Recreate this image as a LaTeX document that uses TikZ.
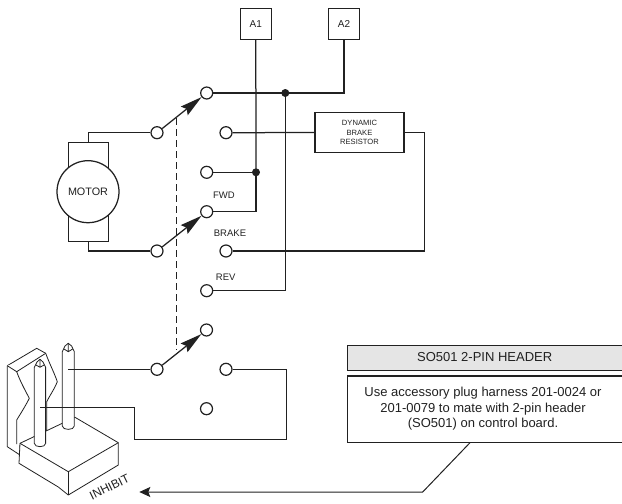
\documentclass[tikz,border=0pt]{standalone}
\usepackage{fontspec}
\setmainfont{Liberation Sans}
\usetikzlibrary{arrows.meta,calc}
\definecolor{ink}{gray}{0.13}
\definecolor{headfill}{gray}{0.90}
\newcommand{\fs}[1]{\fontsize{#1}{#1}\selectfont}
\tikzset{
  wire/.style={draw=ink,line width=1.25pt},
  term/.style={circle,draw=ink,line width=1.2pt,fill=white,minimum size=12pt,inner sep=0pt},
  jdot/.style={circle,fill=ink,minimum size=8pt,inner sep=0pt},
  conbox/.style={rectangle,draw=ink,line width=1.25pt,fill=white,inner sep=0pt,text=ink},
  lab/.style={inner sep=0pt,text=ink,font=\fs{9.5}},
  blade/.style={wire,-{Stealth[length=22pt,width=11pt,inset=3pt]}},
  hdr/.style={draw=ink,line width=0.8pt,fill=white,line join=round},
}
\begin{document}
\begin{tikzpicture}[x=1pt,y=-1pt]
\useasboundingbox (0,0) rectangle (622,504);
\clip (0,0) rectangle (622,504);
% connector boxes
\node[conbox,minimum width=31pt,minimum height=31pt,font=\fs{10}] (A1) at (255.8,24) {A1};
\node[conbox,minimum width=31pt,minimum height=31pt,font=\fs{10}] (A2) at (344,24) {A2};
\node[conbox,minimum width=89pt,minimum height=40pt,align=center,font=\fs{7.6}] (DB) at (359.5,132.5) {DYNAMIC\\[1.8pt]BRAKE\\[1.8pt]RESISTOR};
% motor
\node[rectangle,draw=ink,line width=1.25pt,minimum width=40pt,minimum height=98.6pt,inner sep=0pt] (MB) at (88.3,192) {};
\node[circle,draw=ink,line width=1.25pt,fill=white,minimum size=62pt,inner sep=0pt,text=ink,font=\fs{10.8}] (M) at (88,191.7) {MOTOR};
% terminals
\node[term] (m1) at (157,132.7) {};
\node[term] (m2) at (157,251) {};
\node[term] (m3) at (157,369.3) {};
\node[term] (t1) at (206.7,93) {};
\node[term] (t2) at (226,132.7) {};
\node[term] (t3) at (206.7,172.3) {};
\node[term] (t4) at (206.7,211.7) {};
\node[term] (t5) at (226,251) {};
\node[term] (t6) at (206.7,290.7) {};
\node[term] (t7) at (206.5,330) {};
\node[term] (t8) at (226,369.3) {};
\node[term] (t9) at (206.5,408.7) {};
\node[jdot] (j1) at (256,172.3) {};
\node[jdot] (j2) at (285.3,93) {};
% labels
\node[lab] (fwd) at (224,195.5) {FWD};
\node[lab] (brk) at (230,233.5) {BRAKE};
\node[lab] (rev) at (225.7,277.3) {REV};
% wiring
\draw[wire] (A1.south) -- (j1.center);
\draw[wire] (j1.center) |- (t4.east);
\draw[wire] (t3.east) -- (j1.center);
\draw[wire] (t1.east) -- (j2.center);
\draw[wire] (j2.center) -| (A2.south);
\draw[wire] (j2.center) |- (t6.east);
\draw[wire] (t2.east) -- (DB.west);
\draw[wire] (DB.east) -- ++(20,0) |- (t5.east);
\draw[wire] (m1.west) -| (MB.north);
\draw[wire] (m2.west) -| (MB.south);
\draw[blade] (m1) -- (t1);
\draw[blade] (m2) -- (t4);
\draw[blade] (m3) -- (t7);
\coordinate (dashTop) at (176.7,118);
\coordinate (dashBot) at (176.7,350);
\draw[draw=ink,line width=1.1pt,dash pattern=on 7pt off 4pt] (dashTop) -- (dashBot);
% header: back plate
\draw[hdr] (20,455) -- (7.3,446.7) -- (7.3,365.7) -- (36.7,348.3) -- (45.7,353.3)
  .. controls (50,365) and (54,372) .. (57.3,381.7) .. controls (54,390) and (50,395) .. (46.7,401.7) -- (46.7,430) -- (20,445) -- cycle;
\draw[hdr] (7.3,365.7) -- (16.7,371.7) -- (45.7,353.3);
\draw[hdr,fill=none] (16.7,371.7) .. controls (20,381) and (25,390) .. (29.3,398.3) .. controls (26,405) and (21,413) .. (16.7,420) -- (16.7,444);
% header: base block
\draw[hdr] (20,443.3) -- (75,417.3) -- (118.3,442.7) -- (118.3,465) -- (68.3,495) -- (58.3,487) -- (19,463.3) -- cycle;
\draw[hdr,fill=none] (20,443.3) -- (68.3,471.7) -- (118.3,442.7);
\draw[hdr,fill=none] (68.3,471.7) -- (68.3,495);
% header: pins
\draw[hdr] (62.3,351.7) -- (65,346) -- (68.3,343.3) -- (71.6,346) -- (74.3,351.7) -- (74.3,426) .. controls (74.3,430.5) and (62.3,430.5) .. (62.3,426) -- cycle;
\draw[hdr,fill=none] (64,349) -- (68.3,351.7) -- (72.6,349) (68.3,351.7) -- (68.3,343.3);
\draw[hdr] (34.3,367.3) -- (37,362) -- (40,359.3) -- (43,362) -- (45.7,367.3) -- (45.7,443.3) .. controls (45.7,447.8) and (34.3,447.8) .. (34.3,443.3) -- cycle;
\draw[hdr,fill=none] (36,365) -- (40,367.3) -- (44,365) (40,367.3) -- (40,359.3);
\draw[draw=ink,line width=1.4pt] (45.7,367.3) -- (45.7,443.3);
% header wires
\coordinate (pinA) at (68,369.3);
\coordinate (pinB) at (40,407);
\coordinate (low1) at (134.3,439);
\coordinate (low2) at (286.7,439);
\draw[wire,line width=1pt] (pinA) -- (m3.west);
\draw[wire,line width=1pt] (pinB) -| (low1) -- (low2) |- (t8.east);
\node[inner sep=0pt,text=ink,rotate=26,font=\fs{12}] (inh) at (109.5,487) {INHIBIT};
% header note
\node[rectangle,draw=ink,line width=1.25pt,fill=headfill,minimum width=290pt,minimum height=25.4pt,inner sep=0pt,anchor=west] (h1) at (346.5,358) {};
\node[inner sep=0pt,text=ink,font=\fs{13}] (h1t) at (484.7,357.5) {SO501 2-PIN HEADER};
\node[rectangle,draw=ink,line width=1.25pt,fill=white,minimum width=290pt,minimum height=66.7pt,inner sep=0pt,anchor=west] (h2) at (346.5,409.3) {};
\node[inner sep=0pt,text=ink,align=center,font=\fs{13}] (h2t) at (483,409) {Use accessory plug harness 201-0024 or\\[2.5pt]201-0079 to mate with 2-pin header\\[2.5pt](SO501) on control board.};
% pointer
\coordinate (bend) at (422.7,492);
\coordinate (ptr) at (470,442.7);
\coordinate (tip) at (139.3,492);
\draw[draw=ink,line width=1pt,-{Stealth[length=11pt,width=10pt,inset=2pt]}] (ptr) -- (bend) -- (tip);
\end{tikzpicture}
\end{document}
